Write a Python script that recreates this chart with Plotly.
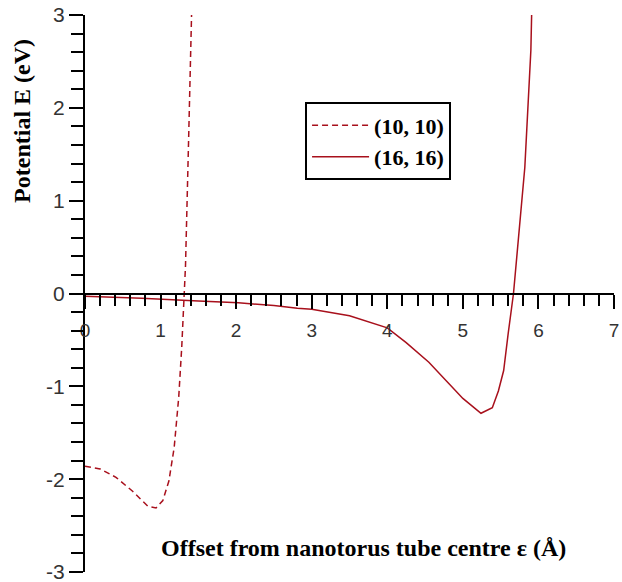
import plotly.graph_objects as go

x10 = [0, 0.2, 0.41, 0.63, 0.83, 0.94, 1.03, 1.11, 1.18, 1.24, 1.28, 1.31, 1.33, 1.37, 1.41]
y10 = [-1.86, -1.89, -1.98, -2.13, -2.29, -2.31, -2.23, -2.02, -1.66, -1.12, -0.58, 0.0, 0.3, 1.62, 3.0]

x16 = [0, 0.75, 1.5, 2.03, 2.5, 2.81, 3.0, 3.5, 4.0, 4.25, 4.55, 4.78, 5.0, 5.24, 5.39, 5.47, 5.54, 5.6, 5.67, 5.82, 5.87, 5.9, 5.91]
y16 = [-0.03, -0.05, -0.08, -0.1, -0.13, -0.16, -0.17, -0.24, -0.37, -0.53, -0.74, -0.94, -1.13, -1.29, -1.23, -1.05, -0.83, -0.43, 0.0, 1.36, 2.08, 2.62, 3.0]

names = ["(10, 10)", "(16, 16)"]
x_ticks = [0, 1, 2, 3, 4, 5, 6, 7]
x_ticktext = ["0", "1", "2", "3", "4", "5", "6", "7"]
y_ticks = [-3, -2, -1, 0, 1, 2, 3]
y_ticktext = ["-3", "-2", "-1", "0", "1", "2", "3"]

line_color = "#a8101c"

fig = go.Figure()
fig.add_trace(go.Scatter(x=x10, y=y10, mode="lines", name="<b>" + names[0] + "</b>",
                         line=dict(color=line_color, width=1.5, dash="6px,4px")))
fig.add_trace(go.Scatter(x=x16, y=y16, mode="lines", name="<b>" + names[1] + "</b>",
                         line=dict(color=line_color, width=1.5)))

xtickfont = dict(family="Liberation Sans, Arial, sans-serif", size=19, color="#333333")
ytickfont = dict(family="Liberation Sans, Arial, sans-serif", size=21, color="#333333")
titlefont = dict(family="Liberation Serif, Times New Roman, serif", size=24, color="#000000")

fig.update_layout(
    width=622, height=582,
    margin=dict(l=85, r=8, t=15, b=10, autoexpand=False),
    plot_bgcolor="white", paper_bgcolor="white",
    showlegend=True,
    legend=dict(x=0.416, y=0.843, xanchor="left", yanchor="top",
                bgcolor="white", bordercolor="black", borderwidth=2,
                font=dict(family="Liberation Serif, Times New Roman, serif", size=22, color="black"),
                tracegroupgap=0, itemwidth=57),
    xaxis=dict(range=[0, 7], anchor="free", position=0.5,
               showline=True, linecolor="black", linewidth=2,
               ticks="outside", ticklen=14, tickwidth=2, tickcolor="black",
               tickmode="array", tickvals=x_ticks, ticktext=x_ticktext,
               showgrid=False, zeroline=False, ticklabeloverflow="allow",
               tickfont=xtickfont, ticklabelstandoff=6, automargin=False,
               minor=dict(dtick=0.2, tick0=0, ticks="outside", ticklen=11, tickwidth=2, tickcolor="black", showgrid=False)),
    yaxis=dict(range=[-3, 3], showline=True, linecolor="black", linewidth=2,
               ticks="outside", ticklen=14, tickwidth=2, tickcolor="black",
               tickmode="array", tickvals=y_ticks, ticktext=y_ticktext,
               showgrid=False, zeroline=False, ticklabeloverflow="allow",
               tickfont=ytickfont, automargin=False,
               minor=dict(dtick=0.2, tick0=0, ticks="outside", ticklen=12, tickwidth=2, tickcolor="black", showgrid=False)),
    annotations=[
        dict(text="<b>Potential E (eV)</b>", xref="paper", yref="paper",
             x=-0.119, y=0.81, xanchor="center", yanchor="middle",
             textangle=-90, showarrow=False, font=titlefont),
        dict(text="<b>Offset from nanotorus tube centre ε (Å)</b>", xref="paper", yref="paper",
             x=0.527, y=0.0435, xanchor="center", yanchor="middle",
             showarrow=False, font=titlefont),
    ],
)

fig.write_html("out.html")
